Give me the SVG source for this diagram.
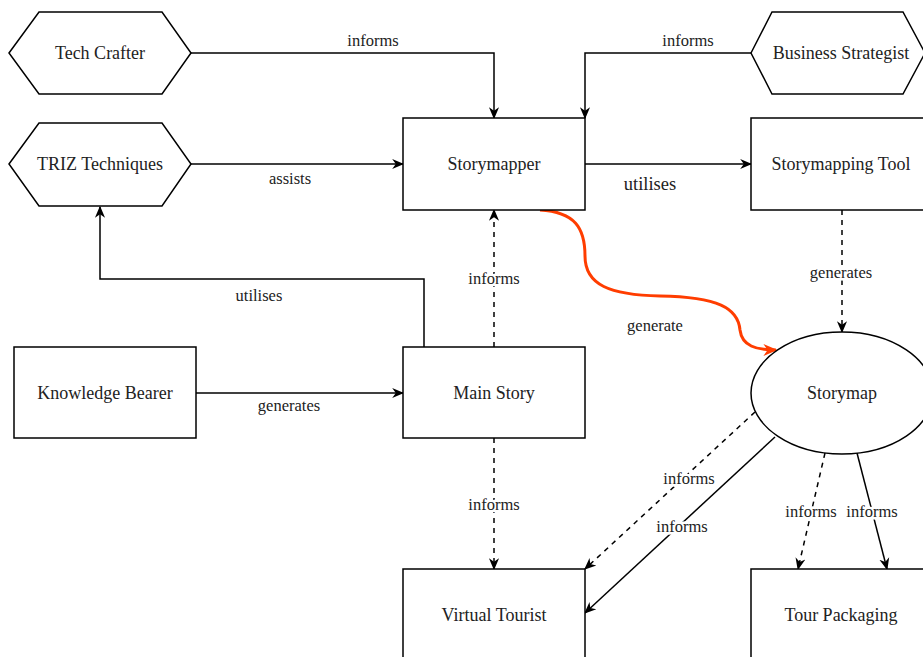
<svg xmlns="http://www.w3.org/2000/svg" width="923" height="657" viewBox="0 0 923 657">
<style>
.n{fill:#fff;stroke:#000;stroke-width:1.5}
.t{font-family:'Liberation Serif','DejaVu Serif',serif;font-size:18px;fill:#222;text-anchor:middle;dominant-baseline:central}
.l{font-family:'Liberation Serif','DejaVu Serif',serif;font-size:16.5px;fill:#222;text-anchor:middle;dominant-baseline:central;stroke:#fff;stroke-width:5px;paint-order:stroke;stroke-linejoin:round}
.e{fill:none;stroke:#000;stroke-width:1.5}
.d{stroke-dasharray:5 5}
</style>
<defs>
<marker id="a" viewBox="0 0 10 10" refX="9" refY="5" markerWidth="12" markerHeight="12" markerUnits="userSpaceOnUse" orient="auto">
<path d="M0,0.8 L10,5 L0,9.2 L3,5 z" fill="#000"/>
</marker>
<marker id="r" viewBox="0 0 10 10" refX="9" refY="5" markerWidth="14" markerHeight="14" markerUnits="userSpaceOnUse" orient="auto">
<path d="M0,0.8 L10,5 L0,9.2 L3,5 z" fill="#ff3d00"/>
</marker>
</defs>
<g id="connectors">
<path class="e" d="M191,53 H494 V118" marker-end="url(#a)"/>
<path class="e" d="M751,53 H585 V118" marker-end="url(#a)"/>
<path class="e" d="M191,164 H403" marker-end="url(#a)"/>
<path class="e" d="M585,164 H751" marker-end="url(#a)"/>
<path class="e" d="M424,347 V279 H100 V207" marker-end="url(#a)"/>
<path class="e d" d="M494,347 V210" marker-end="url(#a)"/>
<path class="e" d="M196,393 H403" marker-end="url(#a)"/>
<path d="M540,210 C575,212 585,228 585,256 C585,285 610,295 660,296 C718,297 738,308 740,330 C742,346 756,350 776,350" fill="none" stroke="#ff3d00" stroke-width="3" marker-end="url(#r)"/>
<path class="e d" d="M842,210 V332" marker-end="url(#a)"/>
<path class="e d" d="M494,438 V569" marker-end="url(#a)"/>
<path class="e d" d="M755,412 L585,569" marker-end="url(#a)"/>
<path class="e" d="M775,437 L585,613" marker-end="url(#a)"/>
<path class="e d" d="M825,453 L798,569" marker-end="url(#a)"/>
<path class="e" d="M857,453 L887,569" marker-end="url(#a)"/>
<text class="l" x="373" y="40">informs</text>
<text class="l" x="688" y="40">informs</text>
<text class="l" x="290" y="178">assists</text>
<text class="l" x="650" y="184" style="font-size:18.5px">utilises</text>
<text class="l" x="259" y="295">utilises</text>
<text class="l" x="494" y="278">informs</text>
<text class="l" x="289" y="405">generates</text>
<text class="l" x="655" y="325">generate</text>
<text class="l" x="841" y="272">generates</text>
<text class="l" x="494" y="504">informs</text>
<text class="l" x="689" y="478">informs</text>
<text class="l" x="682" y="526">informs</text>
<text class="l" x="811" y="511">informs</text>
<text class="l" x="872" y="511">informs</text>
</g>
<g id="tech-crafter"><polygon class="n" points="9,53 39,12 162,12 191,53 162,94 39,94"/><text class="t" x="100" y="53">Tech Crafter</text></g>
<g id="triz"><polygon class="n" points="9,164 39,123 162,123 191,164 162,206 39,206"/><text class="t" x="100" y="164">TRIZ Techniques</text></g>
<g id="business-strategist"><polygon class="n" points="751,53 772,12 903,12 925,53 903,94 772,94"/><text class="t" x="841" y="53">Business Strategist</text></g>
<g id="storymapper"><rect class="n" x="403" y="118" width="182" height="92"/><text class="t" x="494" y="164">Storymapper</text></g>
<g id="storymapping-tool"><rect class="n" x="751" y="118" width="182" height="92"/><text class="t" x="841" y="164">Storymapping Tool</text></g>
<g id="knowledge-bearer"><rect class="n" x="14" y="347" width="182" height="91"/><text class="t" x="105" y="393">Knowledge Bearer</text></g>
<g id="main-story"><rect class="n" x="403" y="347" width="182" height="91"/><text class="t" x="494" y="393">Main Story</text></g>
<g id="storymap"><ellipse class="n" cx="842" cy="393" rx="91" ry="61"/><text class="t" x="842" y="393">Storymap</text></g>
<g id="virtual-tourist"><rect class="n" x="403" y="569" width="182" height="92"/><text class="t" x="494" y="615">Virtual Tourist</text></g>
<g id="tour-packaging"><rect class="n" x="751" y="569" width="182" height="92"/><text class="t" x="841" y="615">Tour Packaging</text></g>
</svg>
